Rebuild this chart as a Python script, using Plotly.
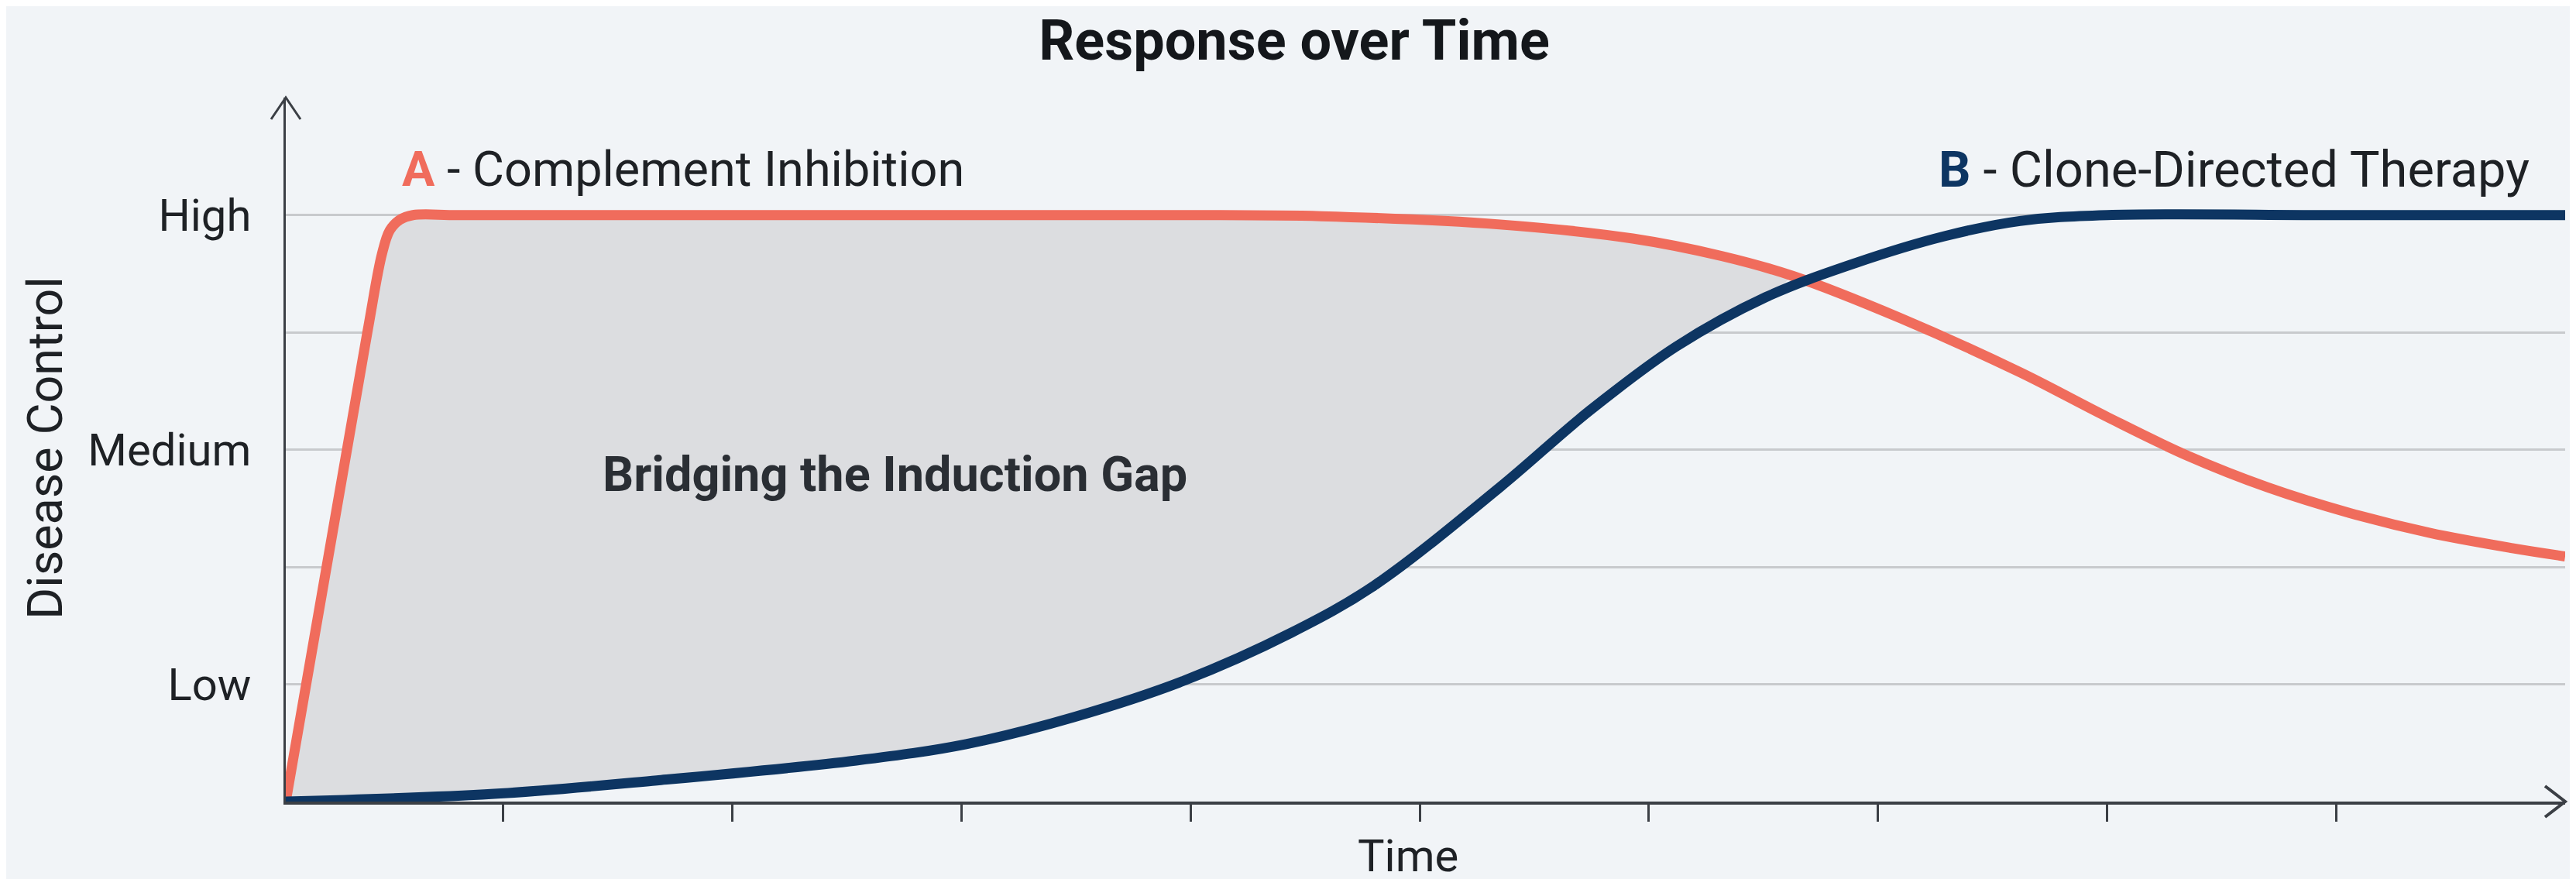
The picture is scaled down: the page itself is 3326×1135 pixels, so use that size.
import plotly.graph_objects as go

# ---- data ----
red_x = [0.05, 0.406, 0.47, 0.504, 0.548, 0.605, 0.8, 1.5, 2.5, 3.5, 4.0, 4.57, 5.35, 5.93, 6.32, 6.63, 7.10, 7.62, 8.0, 8.35, 8.70, 9.06, 9.41, 9.77, 10.0]
red_y = [0.0, 4.0, 4.67, 4.87, 4.96, 5.0, 5.0, 5.0, 5.0, 5.0, 5.0, 4.99, 4.92, 4.80, 4.65, 4.48, 4.12, 3.66, 3.28, 2.95, 2.68, 2.46, 2.29, 2.16, 2.09]

blue_x = [0.05, 0.96, 1.67, 2.54, 3.02, 3.49, 3.97, 4.44, 4.80, 5.35, 5.74, 6.12, 6.51, 6.90, 7.29, 7.62, 8.0, 9.0, 10.0]
blue_y = [0.0, 0.066, 0.18, 0.35, 0.49, 0.72, 1.03, 1.44, 1.84, 2.68, 3.33, 3.88, 4.30, 4.59, 4.82, 4.95, 5.0, 5.0, 5.0]

cross_x = 6.63  # where the two curves meet (end of the shaded gap)

y_tickvals = [1, 2, 3, 4, 5, 6]
y_ticktext = ["Low", "", "Medium", "", "High", ""]
x_tickvals = [1, 2, 3, 4, 5, 6, 7, 8, 9]
x_range = [0.05, 10.0]
y_range = [0, 6.002]

RED = "#f06c5c"
BLUE = "#0d3562"
AXIS = "#3b3f45"
BG = "#f1f4f7"
TXT = "#1e2125"
FONT = "Roboto"

W, H = 3326, 1135
ML, MR, MT, MB = 361, 22, 118, 108
PW, PH = W - ML - MR, H - MT - MB
SMOOTH = 1.0

fig = go.Figure()

# shaded gap between the curves
bx = [x for x in blue_x if x <= cross_x]
by = [y for x, y in zip(blue_x, blue_y) if x <= cross_x]
rx = [x for x in red_x if x <= cross_x]
ry = [y for x, y in zip(red_x, red_y) if x <= cross_x]
fig.add_trace(go.Scatter(x=bx, y=by, mode="lines", line=dict(width=0, shape="spline", smoothing=SMOOTH),
                         hoverinfo="skip", showlegend=False))
fig.add_trace(go.Scatter(x=rx, y=ry, mode="lines", line=dict(width=0, shape="spline", smoothing=SMOOTH),
                         fill="tonexty", fillcolor="#dcdde0", hoverinfo="skip", showlegend=False))

fig.add_trace(go.Scatter(x=red_x, y=red_y, mode="lines", name="A - Complement Inhibition",
                         line=dict(color=RED, width=13, shape="spline", smoothing=SMOOTH), showlegend=False))
fig.add_trace(go.Scatter(x=blue_x, y=blue_y, mode="lines", name="B - Clone-Directed Therapy",
                         line=dict(color=BLUE, width=13, shape="spline", smoothing=SMOOTH), showlegend=False))

fig.update_layout(
    width=W, height=H,
    paper_bgcolor=BG, plot_bgcolor=BG,
    margin=dict(l=ML, r=MR, t=MT, b=MB),
    font=dict(family=FONT, color=TXT, size=58),
    title=dict(text="<b>Response over Time</b>", x=0.5, xanchor="center", y=1 - 44 / H, yanchor="middle",
               font=dict(family=FONT, size=72, color="#14171b")),
    xaxis=dict(range=x_range, showgrid=False, zeroline=False, showline=True, linecolor=AXIS, linewidth=4,
               ticks="outside", tickvals=x_tickvals, ticklen=22, tickwidth=3, tickcolor=AXIS,
               showticklabels=False, fixedrange=True),
    yaxis=dict(range=y_range, tickvals=y_tickvals, ticktext=y_ticktext, showgrid=True, gridcolor="#c8cacd",
               gridwidth=2.5, zeroline=False, showline=True, linecolor=AXIS, linewidth=3, ticks="",
               ticklabelstandoff=30, tickfont=dict(family=FONT, size=58, color=TXT)),
)

# axis arrows (open chevrons), anchored to the plot corners
fig.add_shape(type="path", xref="paper", yref="paper", xsizemode="pixel", ysizemode="pixel",
              xanchor=0, yanchor=1,
              path="M -19 -28 L 0 0 L 19 -28", line=dict(color=AXIS, width=3))
fig.add_shape(type="path", xref="paper", yref="paper", xsizemode="pixel", ysizemode="pixel",
              xanchor=1, yanchor=0,
              path="M -26 20 L 0 0 L -26 -20", line=dict(color=AXIS, width=4))

# annotations
fig.add_annotation(x=0.55, y=5.39, xref="x", yref="y", xanchor="left", yanchor="middle", showarrow=False,
                   text=f"<b><span style='color:{RED}'>A</span></b> - Complement Inhibition",
                   font=dict(family=FONT, size=63, color=TXT))
fig.add_annotation(x=9.85, y=5.39, xref="x", yref="y", xanchor="right", yanchor="middle", showarrow=False,
                   text=f"<b><span style='color:{BLUE}'>B</span></b> - Clone-Directed Therapy",
                   font=dict(family=FONT, size=65, color=TXT))
fig.add_annotation(x=2.71, y=2.79, xref="x", yref="y", showarrow=False,
                   text="<b>Bridging the Induction Gap</b>", font=dict(family=FONT, size=63, color="#2a2e34"))
fig.add_annotation(x=(50 - ML) / PW, y=(H - MB - 571) / PH, xref="paper", yref="paper", showarrow=False,
                   textangle=-90, text="Disease Control", font=dict(family=FONT, size=63, color=TXT),
                   xanchor="center", yanchor="middle")
fig.add_annotation(x=4.95, y=(H - MB - 1097) / PH, xref="x", yref="paper", showarrow=False,
                   text="Time", font=dict(family=FONT, size=58, color=TXT), xanchor="center", yanchor="middle")

fig.write_html("out.html")
